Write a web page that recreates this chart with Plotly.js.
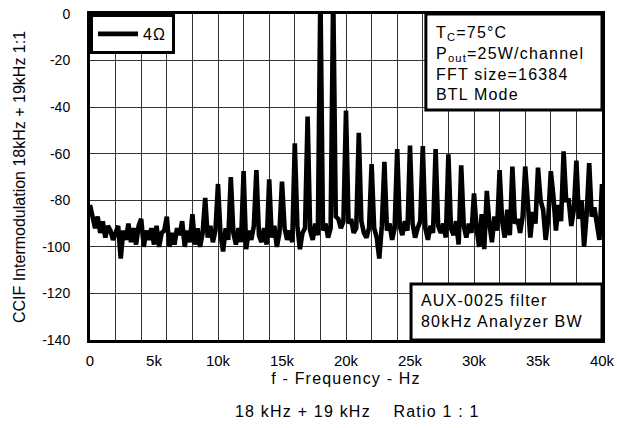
<!DOCTYPE html>
<html><head><meta charset="utf-8">
<script src="https://cdn.plot.ly/plotly-3.0.1.min.js"></script>
<style>
html,body{margin:0;padding:0;background:#fff;}
#chart{width:617px;height:428px;}
.annotation-text, .x2title, .xtitle, .legendtext { letter-spacing: 1.2px; }
</style></head><body><div id="chart"></div>
<script>
// Frequency samples (kHz)
const freqKHz = [
 0.0, 0.2, 0.4, 0.6, 0.8,  1.0, 1.2, 1.4, 1.6, 1.8,  2.0, 2.2, 2.4, 2.6, 2.8,  3.0, 3.2, 3.4, 3.6, 3.8,
 4.0, 4.2, 4.4, 4.6, 4.8,  5.0, 5.2, 5.4, 5.6, 5.8,  6.0, 6.2, 6.4, 6.6, 6.8,  7.0, 7.2, 7.4, 7.6, 7.8,
 8.0, 8.2, 8.4, 8.6, 8.8,  9.0, 9.2, 9.4, 9.6, 9.8,  10.0, 10.2, 10.4, 10.6, 10.8,  11.0, 11.2, 11.4, 11.6, 11.8,
 12.0, 12.2, 12.4, 12.6, 12.8,  13.0, 13.2, 13.4, 13.6, 13.8,  14.0, 14.2, 14.4, 14.6, 14.8,  15.0, 15.2, 15.4, 15.6, 15.8,
 16.0, 16.2, 16.4, 16.6, 16.8,  17.0, 17.2, 17.4, 17.6, 17.8,  18.0, 18.2, 18.4, 18.6, 18.8,  19.0, 19.2, 19.4, 19.6, 19.8,
 20.0, 20.2, 20.4, 20.6, 20.8,  21.0, 21.2, 21.4, 21.6, 21.8,  22.0, 22.2, 22.4, 22.6, 22.8,  23.0, 23.2, 23.4, 23.6, 23.8,
 24.0, 24.2, 24.4, 24.6, 24.8,  25.0, 25.2, 25.4, 25.6, 25.8,  26.0, 26.2, 26.4, 26.6, 26.8,  27.0, 27.2, 27.4, 27.6, 27.8,
 28.0, 28.2, 28.4, 28.6, 28.8,  29.0, 29.2, 29.4, 29.6, 29.8,  30.0, 30.2, 30.4, 30.6, 30.8,  31.0, 31.2, 31.4, 31.6, 31.8,
 32.0, 32.2, 32.4, 32.6, 32.8,  33.0, 33.2, 33.4, 33.6, 33.8,  34.0, 34.2, 34.4, 34.6, 34.8,  35.0, 35.2, 35.4, 35.6, 35.8,
 36.0, 36.2, 36.4, 36.6, 36.8,  37.0, 37.2, 37.4, 37.6, 37.8,  38.0, 38.2, 38.4, 38.6, 38.8,  39.0, 39.2, 39.4, 39.6, 39.8,
 40.0
];
// Level (dB)
const levelDb = [
 -82, -88, -92, -87, -94,   -89, -96, -91, -93, -97,   -94, -91, -105, -93, -97,   -90, -98, -92, -99, -91,
 -88, -100, -93, -97, -92,  -99, -91, -100, -94, -93,  -87, -100, -94, -99, -92,   -95, -89, -100, -93, -98,
 -86, -99, -92, -100, -94,  -79, -96, -91, -98, -93,   -73, -95, -102, -92, -97,   -70, -94, -99, -92, -98,
 -67.5, -101, -93, -97, -91, -67, -95, -98, -92, -99,  -71, -96, -91, -100, -94,   -72, -92, -97, -93, -98,
 -55.5, -91, -101, -94, -92, -44, -93, -97, -90, -95,  10, -93, -90, -96, -92,     10, -87, -88, -92, -89,
 -41.5, -90, -88, -94, -92, -51, -89, -94, -96, -92,   -64.5, -92, -96, -105, -91, -63.5, -93, -90, -97, -92,
 -58, -91, -95, -89, -93,   -56.5, -90, -96, -92, -89, -56.7, -92, -97, -91, -94, -58, -91, -94, -90, -96,
 -60.3, -92, -95, -89, -99, -65, -91, -96, -90, -94,   -77, -92, -100, -86, -101,  -76, -90, -98, -87, -93,
 -67, -89, -96, -84, -95,   -65.5, -90, -88, -94, -87, -65.5, -82, -96, -85, -90,  -66, -80, -84, -97, -88,
 -67.5, -78, -93, -82, -89, -59, -80, -80, -91, -84,   -63, -88, -80, -100, -86,   -64, -87, -83, -92, -97,
 -73
];
const seriesName = '4\u03A9';
const xTickVals = [0, 5, 10, 15, 20, 25, 30, 35, 40];
const xTickText = ['0', '5k', '10k', '15k', '20k', '25k', '30k', '35k', '40k'];
const yTickVals = [0, -20, -40, -60, -80, -100, -120, -140];
const yTickText = ['0', '-20', '-40', '-60', '-80', '-100', '-120', '-140'];

const FONT = 'Liberation Sans, Arial, sans-serif';

const trace = {
  x: freqKHz, y: levelDb, type: 'scatter', mode: 'lines', name: seriesName,
  line: {color: '#000', width: 4.6}, xaxis: 'x', yaxis: 'y', hoverinfo: 'skip'
};
// same data on the labelled overlay axis (invisible), so that axis gets drawn
const labelTrace = {
  x: freqKHz, y: levelDb, type: 'scatter', mode: 'lines', showlegend: false,
  line: {color: 'rgba(0,0,0,0)', width: 0}, xaxis: 'x2', yaxis: 'y', hoverinfo: 'skip'
};

const layout = {
  width: 617, height: 428,
  margin: {l: 90, r: 15, t: 14, b: 88},
  paper_bgcolor: '#fff', plot_bgcolor: '#fff',
  font: {family: FONT, color: '#000', size: 15},
  showlegend: true,
  legend: {x: 0, y: 1, xanchor: 'left', yanchor: 'top', bgcolor: '#fff',
    bordercolor: '#000', borderwidth: 3, font: {size: 16, family: FONT}, itemwidth: 40},
  xaxis: {
    range: [0, 40], dtick: 2, tick0: 0, showticklabels: false, ticks: '',
    showgrid: true, gridcolor: '#333', gridwidth: 1, zeroline: false,
    showline: true, linecolor: '#000', linewidth: 3, mirror: true
  },
  xaxis2: {
    overlaying: 'x', anchor: 'y', side: 'bottom', range: [0, 40],
    tickmode: 'array', tickvals: xTickVals, ticktext: xTickText, ticks: '',
    showgrid: false, zeroline: false, showline: false,
    ticklabelstandoff: 10, tickfont: {size: 15, family: FONT},
    title: {text: 'f - Frequency - Hz', font: {size: 16, family: FONT}, standoff: 4}
  },
  yaxis: {
    range: [-140, 0], tickmode: 'array', tickvals: yTickVals, ticktext: yTickText,
    ticks: '', showgrid: true, gridcolor: '#333', gridwidth: 1, zeroline: false,
    showline: true, linecolor: '#000', linewidth: 3, mirror: true,
    ticklabelstandoff: 14, tickfont: {size: 14, family: FONT},
    title: {text: 'CCIF Intermodulation 18kHz + 19kHz 1:1', font: {size: 16, family: FONT}, standoff: 13}
  },
  shapes: [
    {type: 'rect', xref: 'paper', yref: 'paper', x0: 0.656, x1: 1, y0: 0.7055, y1: 1,
     fillcolor: '#fff', line: {color: '#000', width: 3}, layer: 'above'},
    {type: 'rect', xref: 'paper', yref: 'paper', x0: 0.627, x1: 1, y0: 0, y1: 0.172,
     fillcolor: '#fff', line: {color: '#000', width: 3}, layer: 'above'}
  ],
  annotations: [
    {xref: 'paper', yref: 'paper', x: 0.672, y: 0.975, xanchor: 'left', yanchor: 'top', align: 'left',
     showarrow: false, font: {size: 16, family: FONT},
     text: 'T<sub>C</sub>=75\u00B0C<br>P<sub>out</sub>=25W/channel<br>FFT size=16384<br>BTL Mode'},
    {xref: 'paper', yref: 'paper', x: 0.643, y: 0.152, xanchor: 'left', yanchor: 'top', align: 'left',
     showarrow: false, font: {size: 16, family: FONT},
     text: 'AUX-0025 filter<br>80kHz Analyzer BW'},
    {xref: 'paper', yref: 'paper', x: 0.523, y: -0.218, xanchor: 'center', yanchor: 'middle',
     showarrow: false, font: {size: 16, family: FONT},
     text: '18 kHz + 19 kHz\u00A0\u00A0\u00A0\u00A0Ratio 1 : 1'}
  ]
};

Plotly.newPlot('chart', [trace, labelTrace], layout, {staticPlot: true, displayModeBar: false});
</script>
</body></html>
